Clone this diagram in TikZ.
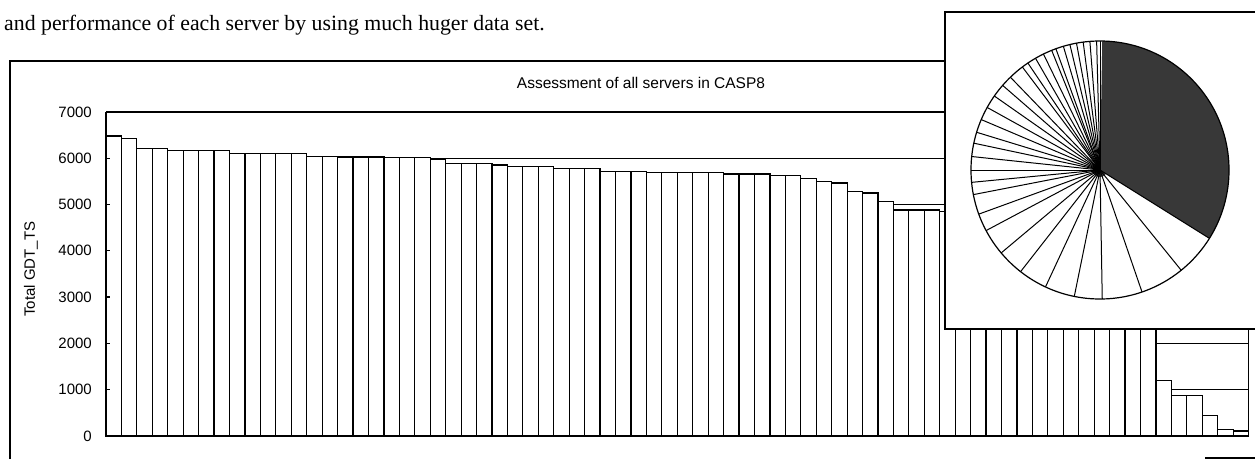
\documentclass[tikz,border=0pt]{standalone}
\usepackage{fontspec}
\setmainfont{Liberation Serif}
\setsansfont{Liberation Sans}
\usepackage{tikz}
\usetikzlibrary{positioning}

\begin{document}
\begin{tikzpicture}[x=1pt,y=1pt,
  frameln/.style={line width=1.3pt},
  barbox/.style={draw, line width=1.2pt, fill=white},
  gridln/.style={line width=1.1pt},
  ticklbl/.style={font=\sffamily\fontsize{15}{15}\selectfont, anchor=east, inner sep=0pt}]
\useasboundingbox (0,0) rectangle (1255,459);
\clip (0,0) rectangle (1255,459);
% Text line above the chart
\node[anchor=base west, inner sep=0pt, font=\fontsize{21.8}{26}\selectfont] (caption) at (4,428) {and performance of each server by using much huger data set.};
% Chart frame and title
\draw[frameln] (10,0) -- (10,398) -- (1255,398);
\node[font=\sffamily\fontsize{15.5}{16}\selectfont] (title) at (641,376) {Assessment of all servers in CASP8};
\node[rotate=90, font=\sffamily\fontsize{15}{15}\selectfont] (ylabel) at (31,190) {Total GDT\_TS};
% Plot area: x = server index, y = GDT_TS
\begin{scope}[shift={(106,23)}, x=15.44pt, y=0.0463pt]
% gridlines
\foreach \v in {1000,2000,...,6000}
  \draw[gridln] (0,\v) -- (74,\v);
\draw[frameln] (0,7000) -- (74,7000) -- (74,0);
% bars
\foreach \h [count=\i] in {6480,6430,6210,6210,6160,6160,6160,6160,6110,6110,
    6110,6095,6095,6040,6040,6025,6025,6025,6020,6020,
    6020,5965,5890,5890,5890,5855,5830,5830,5830,5785,
    5785,5785,5715,5715,5715,5695,5695,5695,5695,5695,
    5660,5660,5660,5620,5620,5565,5500,5465,5285,5250,
    5060,4880,4880,4880,4850,4800,4700,4600,4500,4400,
    4200,4000,3800,3600,3400,3100,2900,2600,1200,880,
    880,450,140,110}
  \draw[barbox] (\i-1,0) rectangle (\i,\h);
% axes
\draw[frameln] (0,7000) -- (0,0) -- (74,0);
\foreach \v in {0,1000,...,7000}{
  \draw[frameln] (0,\v) -- ++(4pt,0);
  \node[ticklbl] (tk\v) at ([xshift=-14pt]0,\v) {\v};
}
\end{scope}
% Pie chart inset
\draw[frameln, fill=white] (945,130) rectangle (1270,447);
\coordinate (pc) at (1100,289);
\fill[black!78] (pc) -- ++(-32:129) arc (-32:89:129) -- cycle;
\fill[black!78] (pc) circle (7);
\foreach \a in {90,-32,-51,-71,-89,-101.5,-115,-128,-140,-152,-160,-169,-174.5,
    180,174,168,163,157,151,145,139,134,127,124,120,116,112,110,106.5,103.5,
    100.5,97.5,94.5,91.5}
  \draw[line width=1pt] (pc) -- ++(\a:129);
\draw[line width=1.2pt] (pc) circle (129);
% stray rule at bottom right
\draw[frameln] (1205,1) -- (1255,1);
\end{tikzpicture}
\end{document}
